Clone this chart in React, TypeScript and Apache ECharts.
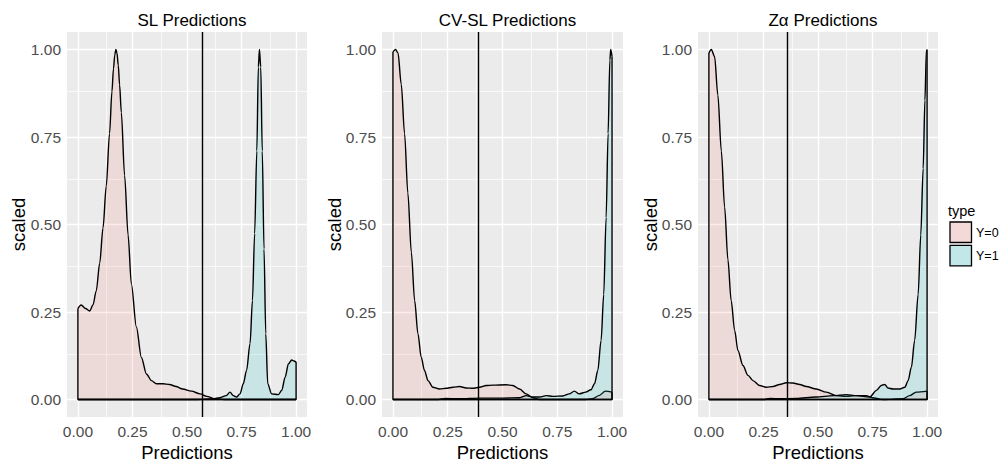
import React, { useEffect, useRef } from "react";
import * as echarts from "echarts";

// ---- data ----
const panelTitles = ["SL Predictions", "CV-SL Predictions", "Zα Predictions"];
const groupNames = ["Y=0", "Y=1"];
const tickValues = [0, 0.25, 0.5, 0.75, 1];
const minorValues = [0.125, 0.375, 0.625, 0.875];
const thresholds = [0.567, 0.39, 0.364];

const slX0 = [0, 0.015, 0.035, 0.054, 0.069, 0.084, 0.1, 0.115, 0.13, 0.145, 0.156, 0.163, 0.169, 0.174, 0.179, 0.185, 0.191, 0.199, 0.214, 0.23, 0.245, 0.268, 0.291, 0.314, 0.337, 0.36, 0.39, 0.42, 0.45, 0.48, 0.52, 0.56, 0.59, 0.63, 0.67, 0.75, 0.85, 1.0];
const slY0 = [0.26, 0.27, 0.26, 0.253, 0.27, 0.31, 0.39, 0.49, 0.61, 0.76, 0.88, 0.945, 0.985, 1.0, 0.99, 0.955, 0.9, 0.82, 0.64, 0.47, 0.33, 0.207, 0.12, 0.073, 0.054, 0.045, 0.045, 0.043, 0.037, 0.03, 0.024, 0.016, 0.009, 0.002, 0, 0, 0, 0];
const slX1 = [0, 0.55, 0.62, 0.65, 0.68, 0.697, 0.712, 0.727, 0.743, 0.758, 0.773, 0.789, 0.8, 0.81, 0.82, 0.827, 0.832, 0.838, 0.845, 0.853, 0.861, 0.87, 0.888, 0.919, 0.934, 0.95, 0.965, 0.98, 0.99, 1.0];
const slY1 = [0, 0, 0.002, 0.005, 0.011, 0.021, 0.011, 0.007, 0.016, 0.045, 0.083, 0.16, 0.283, 0.474, 0.71, 0.95, 1.0, 0.95, 0.71, 0.43, 0.188, 0.045, 0.016, 0.014, 0.026, 0.064, 0.102, 0.113, 0.11, 0.107];

const cvX0 = [0, 0.012, 0.023, 0.038, 0.053, 0.068, 0.084, 0.099, 0.114, 0.129, 0.144, 0.16, 0.182, 0.213, 0.243, 0.274, 0.304, 0.334, 0.365, 0.395, 0.426, 0.456, 0.517, 0.547, 0.578, 0.608, 0.638, 0.669, 0.75, 0.88, 0.91, 0.94, 0.97, 1.0];
const cvY0 = [0.993, 1.0, 0.99, 0.9, 0.76, 0.59, 0.42, 0.283, 0.188, 0.121, 0.083, 0.054, 0.035, 0.03, 0.032, 0.035, 0.037, 0.033, 0.032, 0.035, 0.04, 0.041, 0.042, 0.04, 0.03, 0.016, 0.005, 0, 0, 0, 0.002, 0.011, 0.024, 0.021];
const cvX1 = [0, 0.2, 0.24, 0.3, 0.4, 0.5, 0.578, 0.608, 0.638, 0.669, 0.7, 0.73, 0.775, 0.805, 0.828, 0.85, 0.88, 0.904, 0.92, 0.935, 0.95, 0.962, 0.973, 0.982, 0.99, 0.994, 1.0];
const cvY1 = [0, 0, 0.003, 0.002, 0.004, 0.004, 0.005, 0.011, 0.007, 0.007, 0.011, 0.009, 0.01, 0.016, 0.024, 0.016, 0.021, 0.028, 0.045, 0.083, 0.169, 0.3, 0.52, 0.76, 0.97, 1.0, 0.98];

const zaX0 = [0, 0.011, 0.026, 0.041, 0.057, 0.072, 0.087, 0.102, 0.118, 0.133, 0.156, 0.179, 0.202, 0.232, 0.263, 0.294, 0.324, 0.355, 0.385, 0.416, 0.446, 0.492, 0.538, 0.584, 0.63, 0.668, 0.72, 0.75, 0.8, 0.89, 0.92, 0.95, 1.0];
const zaY0 = [0.99, 1.0, 0.98, 0.87, 0.71, 0.55, 0.4, 0.283, 0.197, 0.14, 0.097, 0.069, 0.054, 0.04, 0.035, 0.037, 0.043, 0.048, 0.047, 0.043, 0.037, 0.03, 0.021, 0.011, 0.009, 0.011, 0.011, 0.005, 0, 0.002, 0.011, 0.021, 0.024];
const zaX1 = [0, 0.25, 0.28, 0.33, 0.4, 0.49, 0.57, 0.63, 0.676, 0.737, 0.768, 0.79, 0.806, 0.82, 0.844, 0.875, 0.898, 0.913, 0.928, 0.943, 0.959, 0.971, 0.982, 0.99, 0.997, 1.0];
const zaY1 = [0, 0, 0.003, 0.002, 0.003, 0.007, 0.011, 0.014, 0.011, 0.007, 0.026, 0.04, 0.043, 0.033, 0.03, 0.03, 0.035, 0.054, 0.092, 0.169, 0.3, 0.47, 0.66, 0.855, 1.0, 1.0];

const panels = [
  { x0: slX0, y0: slY0, x1: slX1, y1: slY1 },
  { x0: cvX0, y0: cvY0, x1: cvX1, y1: cvY1 },
  { x0: zaX0, y0: zaY0, x1: zaX1, y1: zaY1 },
];

// ---- styling ----
const FONT = "'Liberation Sans', Arial, sans-serif";
const fills = ["rgba(248,118,109,0.2)", "rgba(0,191,196,0.2)"];
const gridBoxes = [
  { left: 67, width: 240 },
  { left: 382, width: 241 },
  { left: 698, width: 240 },
];
const TOP = 32;
const HEIGHT = 385;
const LW = 1.4;

const zip = (xs: number[], ys: number[]) => xs.map((x, i) => [x, ys[i]]);
const closure = (xs: number[], ys: number[]) => [
  [xs[0], ys[0]],
  [xs[0], 0],
  [xs[xs.length - 1], 0],
  [xs[xs.length - 1], ys[ys.length - 1]],
];

export default function App() {
  const ref = useRef<HTMLDivElement>(null);
  useEffect(() => {
    if (!ref.current) return;
    const chart = echarts.init(ref.current, undefined, { renderer: "svg" });

    const grid = gridBoxes.map((g) => ({
      left: g.left,
      width: g.width,
      top: TOP,
      height: HEIGHT,
      show: true,
      backgroundColor: "#EBEBEB",
      borderWidth: 0,
      containLabel: false,
    }));

    const axisCommon = {
      type: "value",
      min: -0.05,
      max: 1.05,
      axisLine: { show: false },
      splitLine: { show: false },
      axisTick: { show: true, length: 4, lineStyle: { color: "#333333", width: 1 }, customValues: tickValues },
      axisLabel: {
        customValues: tickValues,
        formatter: (v: number) => v.toFixed(2),
        color: "#4D4D4D",
        fontSize: 15.5,
        fontFamily: FONT,
        margin: 6,
      },
    };

    const xAxis = gridBoxes.map((_, i) => ({ ...axisCommon, gridIndex: i }));
    const yAxis = gridBoxes.map((_, i) => ({ ...axisCommon, gridIndex: i }));

    const gridLineData = [
      ...minorValues.map((v) => ({ xAxis: v, lineStyle: { color: "#FFFFFF", width: 0.7, type: "solid" } })),
      ...minorValues.map((v) => ({ yAxis: v, lineStyle: { color: "#FFFFFF", width: 0.7, type: "solid" } })),
      ...tickValues.map((v) => ({ xAxis: v, lineStyle: { color: "#FFFFFF", width: 1.4, type: "solid" } })),
      ...tickValues.map((v) => ({ yAxis: v, lineStyle: { color: "#FFFFFF", width: 1.4, type: "solid" } })),
    ];

    const series: any[] = [];
    panels.forEach((p, i) => {
      const groups = [
        { xs: p.x0, ys: p.y0 },
        { xs: p.x1, ys: p.y1 },
      ];
      groups.forEach((g, gi) => {
        const s: any = {
          type: "line",
          name: groupNames[gi],
          xAxisIndex: i,
          yAxisIndex: i,
          data: zip(g.xs, g.ys),
          smooth: 0.3,
          smoothMonotone: "x",
          showSymbol: false,
          symbol: "none",
          z: 2 + gi,
          lineStyle: { color: "#000000", width: LW },
          areaStyle: { color: fills[gi], origin: 0 },
          silent: true,
        };
        if (gi === 0) {
          s.markLine = {
            silent: true,
            z: 1,
            symbol: ["none", "none"],
            label: { show: false },
            data: gridLineData,
          };
        } else {
          s.markLine = {
            silent: true,
            z: 10,
            symbol: ["none", "none"],
            label: { show: false },
            lineStyle: { color: "#000000", width: 1.4, type: "solid" },
            data: [{ xAxis: thresholds[i] }],
          };
        }
        series.push(s);
        series.push({
          type: "line",
          xAxisIndex: i,
          yAxisIndex: i,
          data: closure(g.xs, g.ys),
          showSymbol: false,
          symbol: "none",
          z: 4 + gi,
          lineStyle: { color: "#000000", width: LW },
          silent: true,
        });
      });
    });

    const titles = panelTitles.map((t, i) => ({
      text: t,
      left: gridBoxes[i].left + gridBoxes[i].width / 2,
      top: 7,
      textAlign: "center",
      textStyle: { fontFamily: FONT, fontSize: 17, fontWeight: "normal", color: "#000000" },
    }));

    const graphic: any[] = [];
    gridBoxes.forEach((g, i) => {
      graphic.push({
        type: "text",
        x: g.left + g.width / 2,
        y: 452,
        style: { text: "Predictions", fontFamily: FONT, fontSize: 18.5, fill: "#000000", align: "center", verticalAlign: "middle" },
      });
      graphic.push({
        type: "text",
        x: [18, 334, 650][i],
        y: TOP + HEIGHT / 2,
        rotation: Math.PI / 2,
        style: { text: "scaled", fontFamily: FONT, fontSize: 18.5, fill: "#000000", align: "center", verticalAlign: "middle" },
      });
    });
    graphic.push({
      type: "text",
      x: 948,
      y: 211,
      style: { text: "type", fontFamily: FONT, fontSize: 14.5, fill: "#000000", align: "left", verticalAlign: "middle" },
    });
    groupNames.forEach((n, gi) => {
      const y = 222 + gi * 23.3;
      graphic.push({
        type: "rect",
        shape: { x: 950, y: y, width: 21.5, height: 20.5 },
        style: { fill: "#F2F2F2", stroke: "none" },
      });
      graphic.push({
        type: "rect",
        shape: { x: 950, y: y, width: 21.5, height: 20.5 },
        style: { fill: fills[gi], stroke: "#000000", lineWidth: 1.3 },
      });
      graphic.push({
        type: "text",
        x: 976,
        y: y + 10.5,
        style: { text: n, fontFamily: FONT, fontSize: 12.5, fill: "#000000", align: "left", verticalAlign: "middle" },
      });
    });

    chart.setOption({
      animation: false,
      backgroundColor: "#FFFFFF",
      title: titles,
      grid,
      xAxis,
      yAxis,
      series,
      graphic,
    });
    return () => chart.dispose();
  }, []);

  return (
    <div
      ref={ref}
      style={{ position: "fixed", left: 0, top: 0, width: 1002, height: 465, background: "#FFFFFF" }}
    />
  );
}
